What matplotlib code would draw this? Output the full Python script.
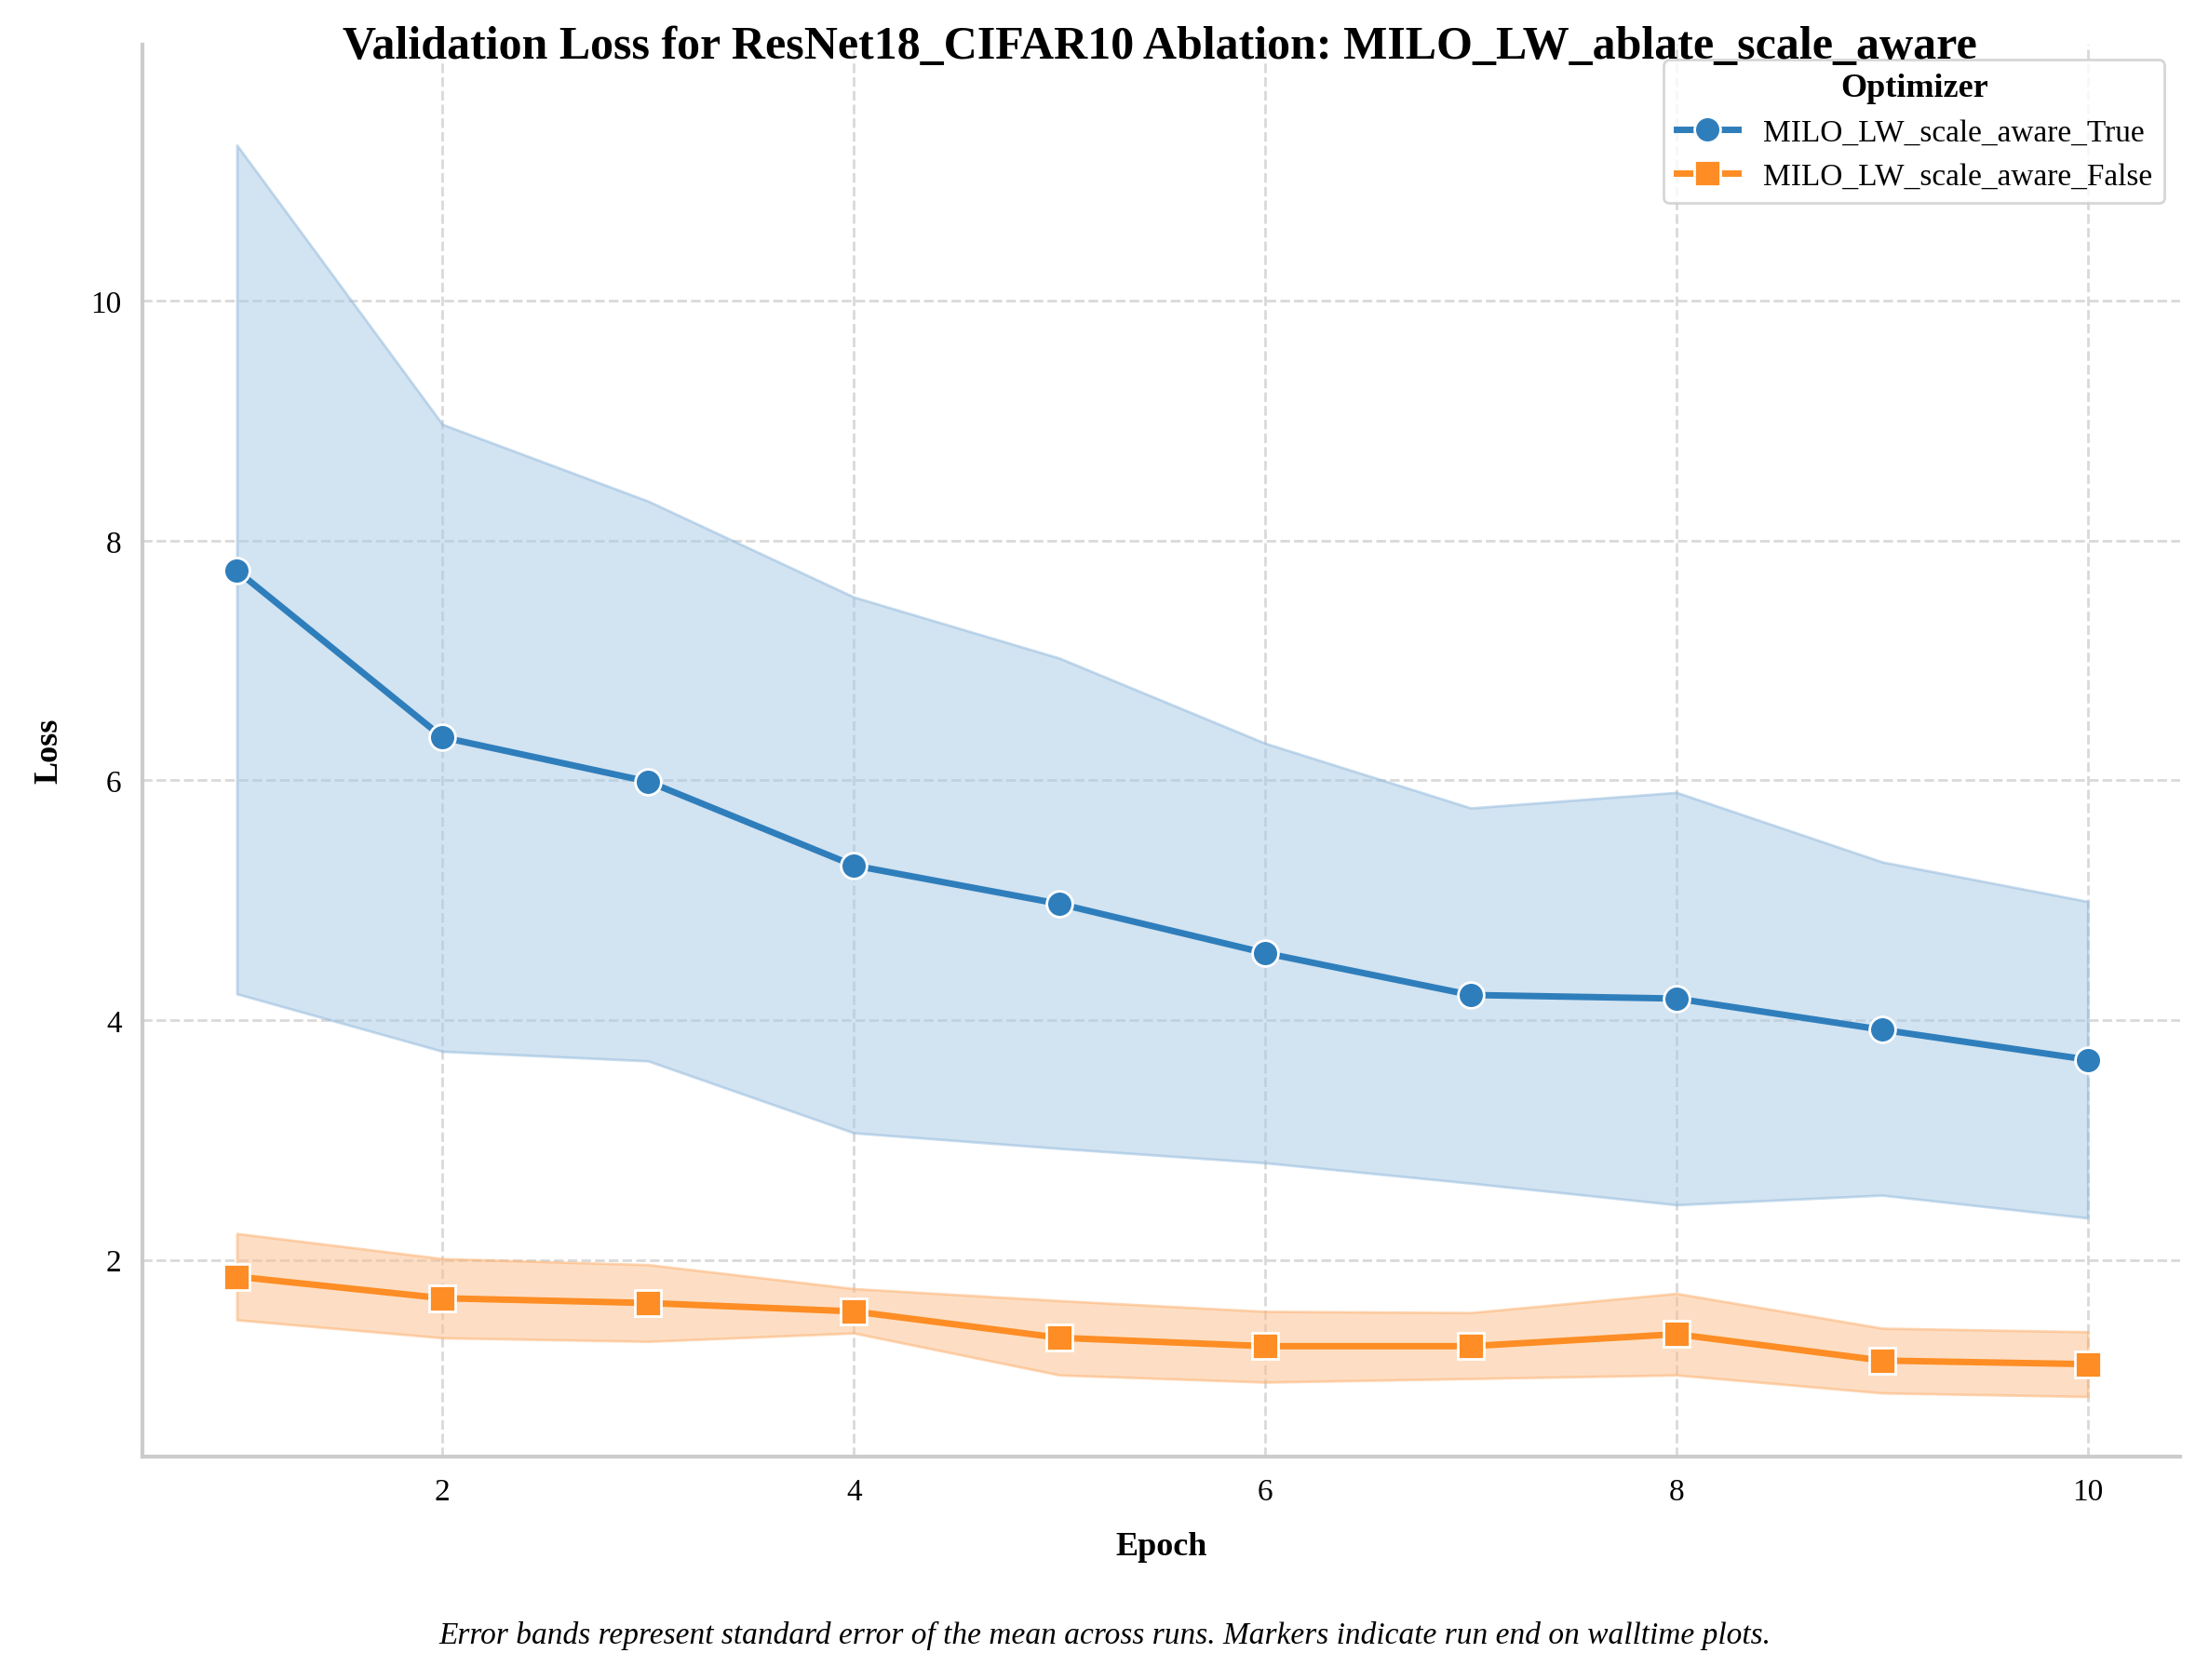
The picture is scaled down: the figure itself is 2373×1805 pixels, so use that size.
import matplotlib
matplotlib.use("Agg")
import matplotlib.pyplot as plt

epochs = [1,2,3,4,5,6,7,8,9,10]
true_mean = [7.75,6.36,5.99,5.29,4.97,4.56,4.21,4.18,3.92,3.67]
true_hi = [11.3,8.97,8.33,7.53,7.02,6.31,5.77,5.90,5.32,4.99]
true_lo = [4.22,3.74,3.66,3.06,2.93,2.81,2.64,2.46,2.54,2.35]
false_mean = [1.86,1.68,1.64,1.57,1.35,1.28,1.28,1.38,1.16,1.13]
false_hi = [2.22,2.01,1.96,1.76,1.66,1.57,1.56,1.72,1.43,1.40]
false_lo = [1.50,1.35,1.32,1.39,1.04,0.98,1.01,1.04,0.89,0.86]

plt.rcParams['font.family'] = ['Liberation Serif', 'DejaVu Serif']
fig = plt.figure(figsize=(11.865, 9.03), dpi=200)
ax = fig.add_axes([0.0644, 0.133, 0.9226, 0.84])
blue, orange = '#2f7ebc', '#fd8d24'
ax.fill_between(epochs, true_lo, true_hi, color='#a6c8e4', alpha=0.5, edgecolor='#8fb8dc', linewidth=1)
ax.fill_between(epochs, false_lo, false_hi, color='#fdbf8a', alpha=0.5, edgecolor='#fdae6b', linewidth=1)
ax.plot(epochs, true_mean, '-o', color=blue, lw=2.5, ms=10, mec='white', mew=1, label='MILO_LW_scale_aware_True')
ax.plot(epochs, false_mean, '-s', color=orange, lw=2.5, ms=10, mec='white', mew=1, label='MILO_LW_scale_aware_False')
ax.set_xlim(0.54, 10.45)
ax.set_ylim(0.36, 12.14)
ax.set_xticks([2,4,6,8,10]); ax.set_yticks([2,4,6,8,10])
ax.grid(True, linestyle='--', color='#d9d9d9', linewidth=1)
ax.set_axisbelow(True)
for s in ['top','right']: ax.spines[s].set_visible(False)
for s in ['left','bottom']:
    ax.spines[s].set_color('#cccccc'); ax.spines[s].set_linewidth(1.5)
ax.tick_params(length=0, labelsize=12, pad=8)
ax.set_xlabel('Epoch', fontsize=13, fontweight='bold', labelpad=10)
ax.set_ylabel('Loss', fontsize=13, fontweight='bold', labelpad=10)
leg = ax.legend(title='Optimizer', fontsize=12, title_fontproperties={'weight':'bold','size':13}, loc='upper right', frameon=True)
leg.get_frame().set_edgecolor('#cccccc')
fig.text(0.525, 0.972, 'Validation Loss for ResNet18_CIFAR10 Ablation: MILO_LW_ablate_scale_aware', ha='center', va='center', fontsize=18, fontweight='bold')
fig.text(0.5, 0.027, 'Error bands represent standard error of the mean across runs. Markers indicate run end on walltime plots.', ha='center', va='center', fontsize=12, style='italic')
fig.savefig('out.png', dpi=200)
